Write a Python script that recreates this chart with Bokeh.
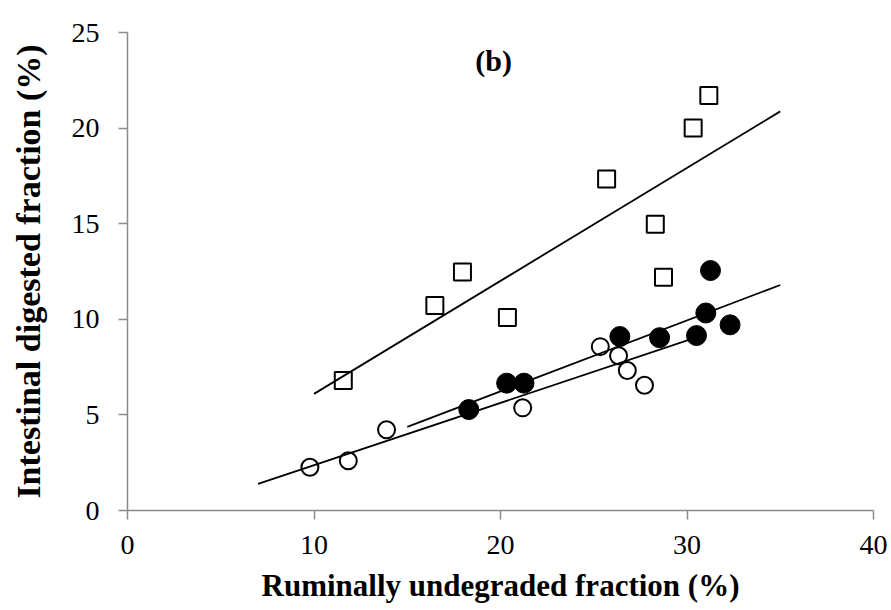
from bokeh.plotting import figure
from bokeh.models import Range1d, FixedTicker, Label
from bokeh.embed import file_html
from bokeh.resources import INLINE

# --- data ---
sq_x = [11.57, 16.48, 17.96, 20.37, 25.69, 28.30, 28.74, 30.33, 31.17]
sq_y = [6.80, 10.72, 12.48, 10.10, 17.34, 14.97, 12.20, 20.00, 21.71]

fc_x = [18.30, 20.33, 21.26, 26.40, 28.53, 30.51, 31.01, 31.26, 32.31]
fc_y = [5.28, 6.66, 6.66, 9.10, 9.04, 9.15, 10.33, 12.55, 9.71]

oc_x = [9.78, 11.84, 13.89, 21.19, 25.35, 26.33, 26.80, 27.72]
oc_y = [2.26, 2.60, 4.22, 5.37, 8.57, 8.09, 7.32, 6.55]

# trend lines: slope, intercept, x start, x end
sq_fit = [0.591, 0.19, 10.0, 35.0]
fc_fit = [0.371, -1.19, 15.0, 35.0]
oc_fit = [0.326, -0.89, 7.0, 30.5]

x_ticks = [0, 10, 20, 30, 40]
y_ticks = [0, 5, 10, 15, 20, 25]

FONT = "Liberation Serif"
AX = "#8a8a8a"

p = figure(width=888, height=610, output_backend="svg", toolbar_location=None,
           x_range=Range1d(0, 40), y_range=Range1d(0, 25),
           min_border_left=127, min_border_right=15,
           min_border_top=32, min_border_bottom=100)
p.outline_line_color = None
p.grid.visible = False
p.background_fill_color = "white"
p.border_fill_color = "white"

p.xaxis.ticker = FixedTicker(ticks=x_ticks)
p.yaxis.ticker = FixedTicker(ticks=y_ticks)
for ax in (p.xaxis, p.yaxis):
    ax.axis_line_color = AX
    ax.axis_line_width = 1.5
    ax.major_tick_line_color = AX
    ax.major_tick_line_width = 1.5
    ax.major_tick_out = 9
    ax.major_tick_in = 0
    ax.minor_tick_line_color = None
    ax.major_label_text_font = FONT
    ax.major_label_text_font_size = "28px"
    ax.major_label_text_color = "black"
    ax.axis_label_text_font = FONT
    ax.axis_label_text_font_style = "bold"
    ax.axis_label_text_color = "black"

p.xaxis.axis_label = "Ruminally undegraded fraction (%)"
p.yaxis.axis_label = "Intestinal digested fraction (%)"
p.xaxis.axis_label_text_font_size = "31px"
p.yaxis.axis_label_text_font_size = "34px"
p.xaxis.major_label_standoff = 16
p.xaxis.axis_label_standoff = 11
p.yaxis.major_label_standoff = 19
p.yaxis.axis_label_standoff = 22

# markers
p.scatter(oc_x, oc_y, marker="circle", size=17, fill_color="white",
          line_color="black", line_width=2)
p.scatter(sq_x, sq_y, marker="square", size=17, fill_color="white",
          line_color="black", line_width=2)
p.scatter(fc_x, fc_y, marker="circle", size=20, fill_color="black",
          line_color="black", line_width=1)

# trend lines
for s, b, x0, x1 in (sq_fit, fc_fit, oc_fit):
    p.line([x0, x1], [s * x0 + b, s * x1 + b], line_color="black", line_width=1.8)

p.add_layout(Label(x=19.63, y=23.52, text="(b)", text_font=FONT,
                   text_font_size="30px", text_font_style="bold",
                   text_align="center", text_baseline="alphabetic",
                   text_color="black"))

open("out.html", "w").write(file_html(p, INLINE))
